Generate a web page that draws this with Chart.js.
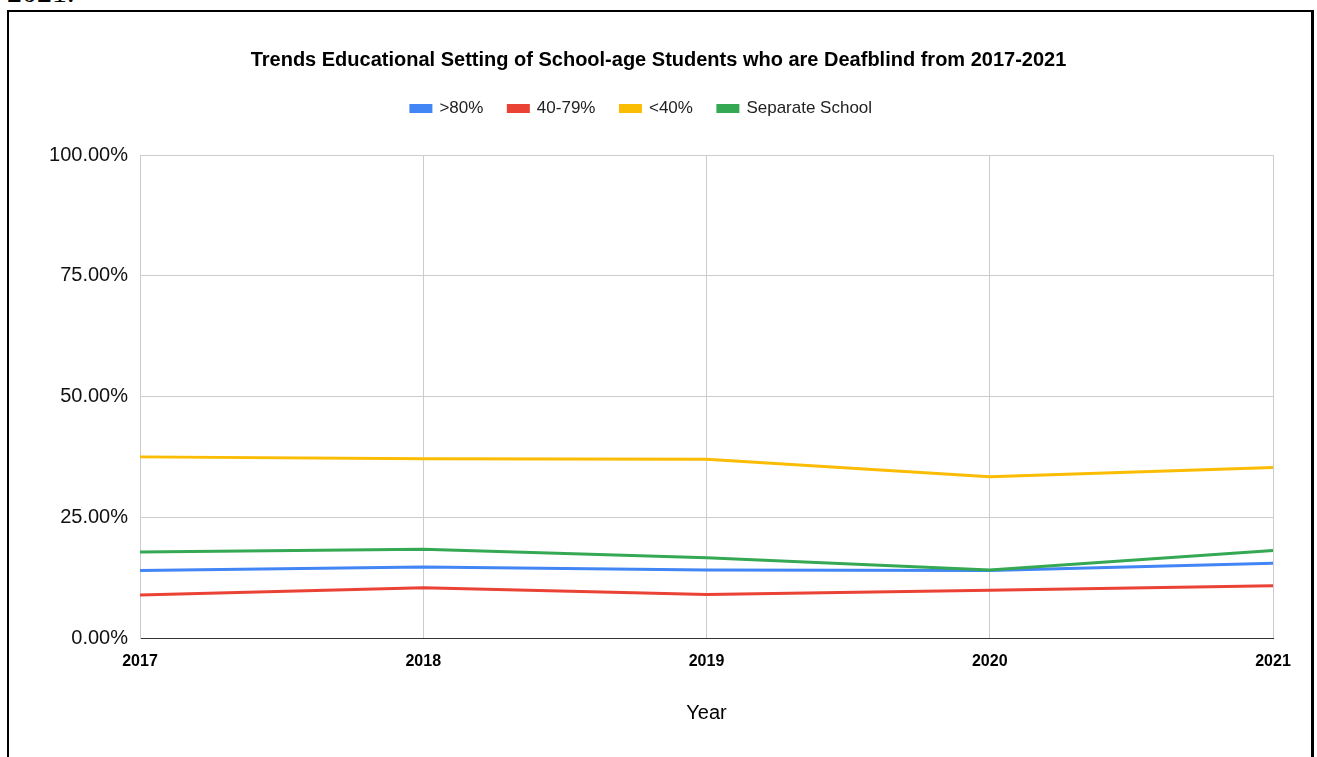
<!DOCTYPE html>
<html>
<head>
<meta charset="utf-8">
<script src="https://cdn.jsdelivr.net/npm/chart.js@4"></script>
<style>
    html, body {
        margin: 0;
        padding: 0;
        width: 1317px;
        height: 757px;
        overflow: hidden;
        background: #fff;
    }
    #entete {
        position: absolute;
        left: 7px;
        top: -23px;
        font-family: "Liberation Serif", "Times New Roman", serif;
        font-size: 30px;
        line-height: 30px;
        color: #000;
    }
    #cadre {
        position: absolute;
        left: 7px;
        top: 10px;
        width: 1302px;
        height: 800px;
        border: 2px solid #000;
        border-right-width: 3px;
    }
    #zone {
        position: absolute;
        left: 0;
        top: 0;
        width: 1317px;
        height: 757px;
    }
</style>
</head>
<body>
<div id="entete">2021.</div>
<div id="cadre"></div>
<div id="zone"><canvas id="graphiqueTendances"></canvas></div>
<script>
const annees = ["2017", "2018", "2019", "2020", "2021"];
const plus80 = [14.0, 14.7, 14.1, 14.0, 15.5];
const entre40et79 = [8.9, 10.4, 9.0, 9.9, 10.8];
const moins40 = [37.5, 37.1, 37.0, 33.4, 35.3];
const ecoleSeparee = [17.8, 18.4, 16.6, 14.1, 18.1];
const graduations = [0, 25, 50, 75, 100];

const police = "'Liberation Sans', Arial, sans-serif";

function serie(nom, valeurs, couleur, ordre) {
    return {
        label: nom,
        data: valeurs,
        borderColor: couleur,
        backgroundColor: couleur,
        borderWidth: 3,
        pointRadius: 0,
        tension: 0,
        yAxisID: "y",
        order: ordre
    };
}

// la légende est un peu décalée vers la gauche par rapport au titre
const decalageLegende = {
    id: "decalageLegende",
    afterLayout: function(chart) {
        chart.legend.left -= 17;
        chart.legend.right -= 17;
    }
};

const ctx = document.getElementById("graphiqueTendances");
new Chart(ctx, {
    type: "line",
    data: {
        labels: annees,
        datasets: [
            serie(">80%", plus80, "#4285F4", 3),
            serie("40-79%", entre40et79, "#EA4335", 2),
            serie("<40%", moins40, "#FBBC04", 1),
            serie("Separate School", ecoleSeparee, "#34A853", 0)
        ]
    },
    plugins: [decalageLegende],
    options: {
        responsive: true,
        maintainAspectRatio: false,
        animation: false,
        layout: {
            padding: 0
        },
        plugins: {
            title: {
                display: true,
                text: "Trends Educational Setting of School-age Students who are Deafblind from 2017-2021",
                color: "#000",
                font: { family: police, size: 20, weight: "bold" },
                padding: { top: 48, bottom: 3 }
            },
            subtitle: {
                // espace vide entre la légende et la zone du graphique
                display: true,
                text: "",
                weight: 500,
                font: { size: 10 },
                padding: { top: 16, bottom: 0 }
            },
            legend: {
                display: true,
                position: "top",
                labels: {
                    color: "#222",
                    font: { family: police, size: 17 },
                    boxWidth: 20,
                    boxHeight: 6,
                    padding: 25,
                    sort: function(a, b) {
                        return a.datasetIndex - b.datasetIndex;
                    }
                }
            },
            tooltip: { enabled: false }
        },
        scales: {
            x: {
                afterFit: function(scale) {
                    scale.height = 119;
                },
                grid: {
                    color: "#cccccc",
                    lineWidth: 1,
                    drawTicks: false
                },
                border: { color: "#333", width: 1 },
                ticks: {
                    color: "#000",
                    padding: 14,
                    maxRotation: 0,
                    font: { family: police, size: 16, weight: "bold" }
                },
                title: {
                    display: true,
                    text: "Year",
                    color: "#000",
                    font: { family: police, size: 20 },
                    padding: { top: 0, bottom: 32 }
                }
            },
            y: {
                min: 0,
                max: 100,
                afterFit: function(scale) {
                    scale.width = 140;
                },
                afterBuildTicks: function(scale) {
                    scale.ticks = graduations.map(function(v) {
                        return { value: v };
                    });
                },
                grid: {
                    color: function(c) {
                        return c.tick && c.tick.value === 0 ? "#333" : "#cccccc";
                    },
                    lineWidth: 1,
                    drawTicks: false
                },
                border: { color: "#cccccc", width: 1 },
                ticks: {
                    color: "#111",
                    padding: 12,
                    font: { family: police, size: 20 },
                    callback: function(v) {
                        return v.toFixed(2) + "%";
                    }
                }
            },
            // marge vide à droite de la zone du graphique
            marge: {
                position: "right",
                display: true,
                afterFit: function(scale) {
                    scale.width = 44;
                },
                grid: { display: false },
                border: { display: false },
                ticks: { display: false }
            }
        }
    }
});
</script>
</body>
</html>
